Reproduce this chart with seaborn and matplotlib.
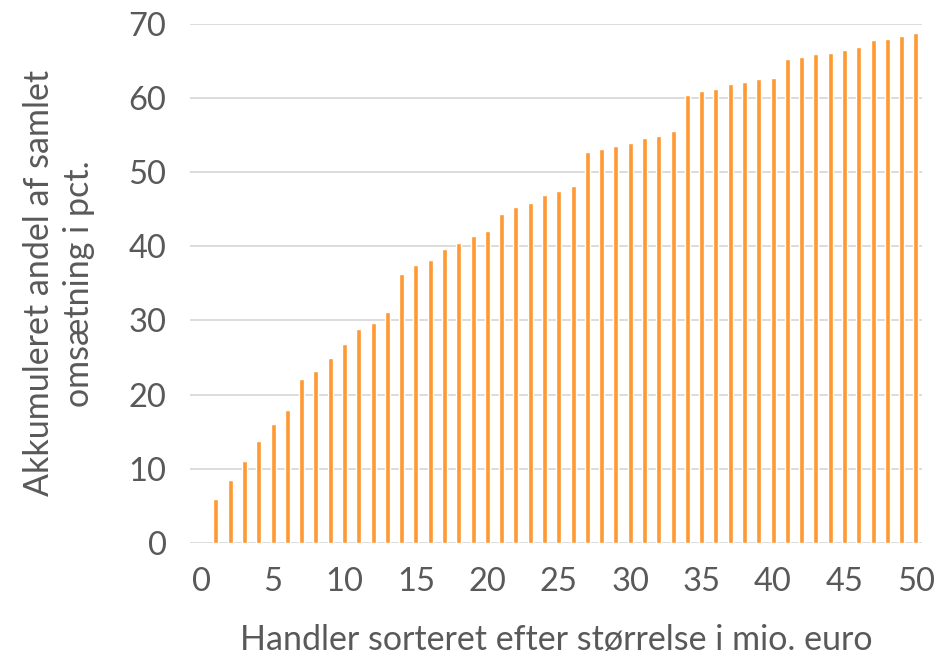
import numpy as np
import pandas as pd
import matplotlib
matplotlib.use("Agg")
import matplotlib.pyplot as plt
import seaborn as sns

# deal number (sorted by size) and cumulative share of turnover, pct.
handel = list(range(1, 51))
andel = [5.9, 8.5, 11.1, 13.8, 16.1, 17.9, 22.1, 23.2, 25.0, 26.8,
         28.9, 29.7, 31.2, 36.3, 37.5, 38.2, 39.6, 40.4, 41.4, 42.0,
         44.4, 45.3, 45.9, 46.9, 47.4, 48.1, 52.7, 53.1, 53.5, 53.9,
         54.6, 54.9, 55.5, 60.4, 60.9, 61.2, 61.9, 62.1, 62.5, 62.7,
         65.3, 65.5, 65.9, 66.0, 66.4, 66.8, 67.8, 68.0, 68.3, 68.8]
xticks = [0, 5, 10, 15, 20, 25, 30, 35, 40, 45, 50]
yticks = [0, 10, 20, 30, 40, 50, 60, 70]

df = pd.DataFrame({"handel": handel, "andel": andel})

sns.set_theme(style="white")
plt.rcParams["font.family"] = ["Lato", "DejaVu Sans"]
grey = "#595959"

fig, ax = plt.subplots(figsize=(9.46, 6.59), dpi=100)
fig.subplots_adjust(left=0.201, right=0.975, top=0.964, bottom=0.176)

sns.barplot(data=df, x="handel", y="andel", native_scale=True,
            width=0.35, color="#FF9933", saturation=1, ax=ax, zorder=3)

ax.set_xlim(-0.8, 50.45)
ax.set_ylim(0, 70)
ax.set_xticks(xticks)
ax.set_yticks(yticks)
ax.tick_params(axis="y", length=0, labelsize=23.5, colors=grey, pad=17)
ax.tick_params(axis="x", length=0, labelsize=23.5, colors=grey, pad=17)
ax.yaxis.grid(True, color="#D9D9D9", linewidth=1.3)
ax.set_axisbelow(True)
for s in ax.spines.values():
    s.set_visible(False)

ax.set_xlabel("Handler sorteret efter størrelse i mio. euro",
              fontsize=24.5, color=grey, labelpad=20)
ax.set_ylabel("Akkumuleret andel af samlet\nomsætning i pct.",
              fontsize=24.5, color=grey, labelpad=24, linespacing=1.3)

fig.savefig("out.png", dpi=100)
